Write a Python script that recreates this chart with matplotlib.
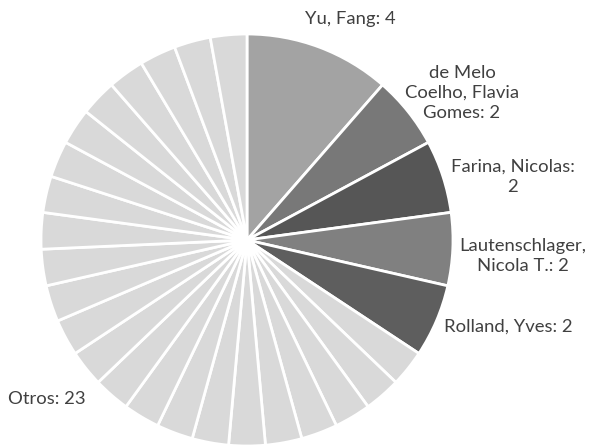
import matplotlib
matplotlib.use("Agg")
import matplotlib.pyplot as plt

# Publications per author
authors = ["Yu, Fang", "de Melo\nCoelho, Flavia\nGomes", "Farina, Nicolas:\n", "Lautenschlager,\nNicola T.", "Rolland, Yves"]
counts = [4, 2, 2, 2, 2]
others_label = "Otros"
others_counts = [1] * 23

author_colors = ["#a3a3a3", "#787878", "#565656", "#808080", "#5e5e5e"]
others_color = "#d9d9d9"

W, H = 593, 446
fig = plt.figure(figsize=(W / 100, H / 100), dpi=100)
ax = fig.add_axes([0, 0, 1, 1])

cx, cy, R = 247, 446 - 240, 206
values = counts + others_counts
colors = author_colors + [others_color] * len(others_counts)

wedges, _ = ax.pie(values, colors=colors, startangle=90, counterclock=False,
                   radius=R, center=(cx, cy),
                   wedgeprops=dict(edgecolor="white", linewidth=2.0))
ax.set_xlim(0, W)
ax.set_ylim(0, H)
ax.set_aspect("equal")
ax.axis("off")

font = dict(family="Lato", size=13.3, color="#404040", ha="center", va="center",
            linespacing=1.3)

label_texts = [
    f"Yu, Fang: {counts[0]}",
    f"de Melo\nCoelho, Flavia\nGomes: {counts[1]}",
    f"Farina, Nicolas:\n{counts[2]}",
    f"Lautenschlager,\nNicola T.: {counts[3]}",
    f"Rolland, Yves: {counts[4]}",
]
label_pos = [(350, 19), (462, 93), (513, 177), (523, 256), (508, 327)]
for txt, (x, y) in zip(label_texts, label_pos):
    ax.text(x, H - y, txt, **font)

ax.text(47, H - 399, f"{others_label}: {sum(others_counts)}", **font)

fig.savefig("out.png", dpi=100)
